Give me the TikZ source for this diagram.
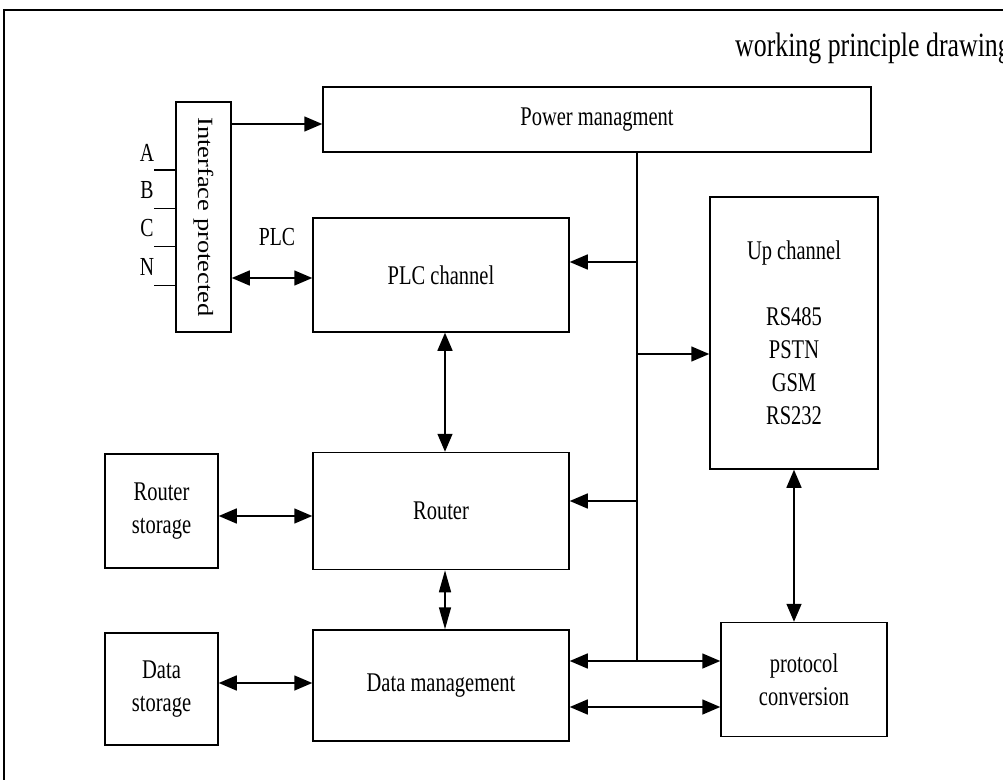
\documentclass[tikz,border=0pt]{standalone}
\usepackage{fontspec}
\setmainfont{Liberation Serif}[FakeStretch=0.76]
\newfontfamily\plainserif{Liberation Serif}
\usetikzlibrary{arrows.meta}

\begin{document}
\begin{tikzpicture}[x=1pt,y=-1pt,
  box/.style={draw,line width=1.5pt,inner sep=0pt,align=center,
    font=\fontsize{27}{33}\selectfont},
  conn/.style={line width=1.5pt},
  tip/.style={-{Triangle[length=18pt,width=15pt]}},
  both/.style={{Triangle[length=18pt,width=15pt]}-{Triangle[length=18pt,width=15pt]}},
  lbl/.style={inner sep=0pt,font=\fontsize{26}{30}\selectfont}]
\useasboundingbox (0,0) rectangle (1003,779);

% outer frame
\draw[line width=1.6pt] (4,800) -- (4,10) -- (1020,10);
\node[anchor=base west,inner sep=0pt,font=\fontsize{34}{38}\selectfont] (title) at (735,56) {working principle drawing};

% blocks
\node[box,minimum width=55pt,minimum height=230pt] (iface) at (203.5,217) {};
\node[rotate=-90,inner sep=0pt,font=\plainserif\fontsize{26.5}{30}\selectfont] (ifacetxt) at (iface.center) {\scalebox{1}[0.82]{Interface protected}};
\node[box,minimum width=548pt,minimum height=65pt] (power) at (597,119.5) {Power managment};
\node[box,minimum width=256pt,minimum height=114pt] (plc) at (441,275) {PLC channel};
\node[box,minimum width=256pt,minimum height=117pt] (router) at (441,511) {Router};
\node[box,minimum width=256pt,minimum height=111pt] (data) at (441,685.5) {Data management};
\node[box,minimum width=113pt,minimum height=114pt] (rstore) at (161.5,511) {Router\\storage};
\node[box,minimum width=113pt,minimum height=112pt] (dstore) at (161.5,689) {Data\\storage};
\node[box,minimum width=168pt,minimum height=272pt] (up) at (794,333) {Up channel\\[33pt]RS485\\PSTN\\GSM\\RS232};
\node[box,minimum width=166pt,minimum height=114pt] (proto) at (804,679.5) {protocol\\conversion};

% phase inputs
\foreach \n/\ly/\wy in {A/153/170,B/190/208.5,C/228/246.5,N/267/285.5}{
  \node[lbl] (lab\n) at (147,\ly) {\n};
  \coordinate (w\n) at (154,\wy);
  \draw[conn] (w\n) -- (w\n -| iface.west);
}
\node[lbl] (plclbl) at (277,237) {PLC};

% reference points for connectors
\coordinate (pwrin) at (0,124);
\coordinate (plcin) at (0,278);
\coordinate (colx) at (445,0);
\coordinate (busx) at (637,0);
\coordinate (bustop) at (power.south -| busx);
\coordinate (busbot) at (637,661);
\coordinate (b1) at (637,262);
\coordinate (b2) at (637,354);
\coordinate (b3) at (637,501);
\coordinate (low) at (0,707);
\coordinate (sr) at (0,516);
\coordinate (sd) at (0,683);

% connectors
\draw[conn,tip] (iface.east |- pwrin) -- (power.west |- pwrin);
\draw[conn,both] (iface.east |- plcin) -- (plc.west |- plcin);
\draw[conn] (bustop) -- (busbot);
\draw[conn,tip] (b1) -- (b1 -| plc.east);
\draw[conn,tip] (b2) -- (b2 -| up.west);
\draw[conn,tip] (b3) -- (b3 -| router.east);
\draw[conn,both] (busbot -| data.east) -- (busbot -| proto.west);
\draw[conn,both] (low -| data.east) -- (low -| proto.west);
\draw[conn,both] (plc.south -| colx) -- (router.north -| colx);
\draw[conn,{Triangle[length=22pt,width=12pt]}-{Triangle[length=22pt,width=12pt]}] (router.south -| colx) -- (data.north -| colx);
\draw[conn,both] (rstore.east |- sr) -- (router.west |- sr);
\draw[conn,both] (dstore.east |- sd) -- (data.west |- sd);
\draw[conn,both] (up.south) -- (up.south |- proto.north);
\end{tikzpicture}
\end{document}
